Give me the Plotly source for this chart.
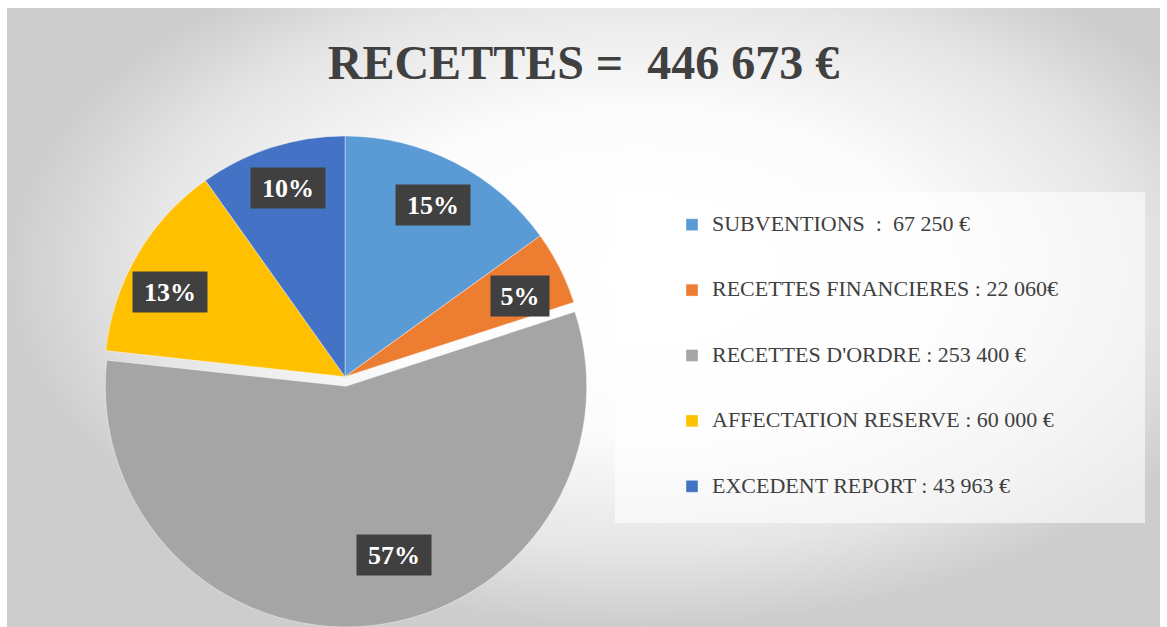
import math
import plotly.graph_objects as go

# ---- data ----
categories = ["SUBVENTIONS", "RECETTES FINANCIERES", "RECETTES D'ORDRE",
              "AFFECTATION RESERVE", "EXCEDENT REPORT"]
values = [67250, 22060, 253400, 60000, 43963]
legend_labels = ["SUBVENTIONS \u00a0: \u00a067 250 €",
                 "RECETTES FINANCIERES : 22 060€",
                 "RECETTES D'ORDRE : 253 400 €",
                 "AFFECTATION RESERVE : 60 000 €",
                 "EXCEDENT REPORT : 43 963 €"]
title_text = "RECETTES = \u00a0446 673 €"

# ---- style ----
colors = ["#5B9BD5", "#ED7D31", "#A5A5A5", "#FFC000", "#4472C4"]
pulls = [0, 0, 0.04, 0, 0]
label_angle_shift = [0, 2, -10, -4.5, 1]      # degrees, label placement tweak
label_radius = [0.8, 0.8, 0.73, 0.81, 0.82]   # fraction of radius
W, H = 1167, 627
FONT = "Liberation Serif"
TXT = "#404040"

R_PX = 242
CX, CY = 345, 378
half = R_PX * (1 + max(pulls))
pie_dom_x = [(CX - half) / W, (CX + half) / W]
pie_dom_y = [0.0, 1 - (CY - half) / H]

fig = go.Figure()

# background radial gradient
fig.add_trace(go.Scatter(
    x=[0, 1.1, 1.1, 0, 0], y=[0, 0, 1.15, 1.15, 0], mode="lines", fill="toself",
    line=dict(width=0, color="rgba(0,0,0,0)"),
    fillgradient=dict(type="radial",
                      colorscale=[[0, "#ffffff"], [0.45, "#fcfcfc"],
                                  [0.78, "#e6e6e6"], [1, "#cdcdcd"]]),
    hoverinfo="skip", showlegend=False))

leg_text = ["\u00a0<br><span style='font-size:22px'>%s</span><br>\u00a0" % t
            for t in legend_labels]

fig.add_trace(go.Pie(
    labels=leg_text, values=values, customdata=legend_labels,
    sort=False, direction="clockwise", rotation=0,
    marker=dict(colors=colors, line=dict(color="rgba(255,255,255,0.5)", width=0.8)),
    pull=pulls, textinfo="none",
    hovertemplate="%{customdata}<br>%{percent}<extra></extra>",
    domain=dict(x=pie_dom_x, y=pie_dom_y),
))

# label boxes computed from the data
total = sum(values)
box_w = (pie_dom_x[1] - pie_dom_x[0]) * W
box_h = (pie_dom_y[1] - pie_dom_y[0]) * H
r = min(box_w, box_h) / (2 + 2 * max(pulls))
cx = W * (pie_dom_x[0] + pie_dom_x[1]) / 2
cy = H * (1 - pie_dom_y[0]) - box_h / 2
annotations = []
cum = 0
for i, v in enumerate(values):
    f = v / total
    mid = (cum + f / 2) * 360
    cum += f
    ox = cx + pulls[i] * r * math.sin(math.radians(mid))
    oy = cy - pulls[i] * r * math.cos(math.radians(mid))
    a = math.radians(mid + label_angle_shift[i])
    px = ox + label_radius[i] * r * math.sin(a)
    py = oy - label_radius[i] * r * math.cos(a)
    annotations.append(dict(
        x=px / W, y=1 - py / H, xref="paper", yref="paper",
        text="<b>%d%%</b>" % round(f * 100), showarrow=False,
        font=dict(family=FONT, size=26, color="white"),
        bgcolor="#404040", borderpad=5,
        width=(64 if f >= 0.095 else 48), height=30,
        xanchor="center", yanchor="middle"))

fig.update_layout(
    width=W, height=H,
    margin=dict(l=0, r=0, t=0, b=0),
    paper_bgcolor="white", plot_bgcolor="rgba(0,0,0,0)",
    xaxis=dict(domain=[7 / W, 1160 / W], range=[0, 1], visible=False, fixedrange=True),
    yaxis=dict(domain=[0, 1 - 8 / H], range=[0, 1], visible=False, fixedrange=True),
    title=dict(text="<b>%s</b>" % title_text, x=0.5, xanchor="center",
               y=1 - 62 / H, yanchor="middle",
               font=dict(family=FONT, size=48, color=TXT)),
    legend=dict(x=672 / W, y=1 - 187 / H, xanchor="left", yanchor="top",
                bgcolor="rgba(0,0,0,0)", font=dict(family=FONT, size=16, color=TXT),
                valign="middle"),
    shapes=[dict(type="rect", xref="paper", yref="paper", layer="above",
                 x0=615 / W, x1=1145 / W, y0=1 - 523 / H, y1=1 - 192 / H,
                 fillcolor="rgba(255,255,255,0.6)", line=dict(width=0))],
    annotations=annotations,
)

fig.write_html("out.html", config={"displayModeBar": False},
               post_script="document.body.style.margin='0';")
